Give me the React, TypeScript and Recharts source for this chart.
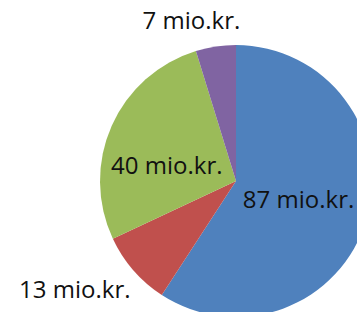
import { PieChart, Pie, Cell } from 'recharts';

document.body.style.margin = '0';

const categories = ['A', 'B', 'C', 'D'];
const values = [87, 13, 40, 7];
const valueLabels = ['87 mio.kr.', '13 mio.kr.', '40 mio.kr.', '7 mio.kr.'];
const colors = ['#4F81BD', '#C0504D', '#9BBB59', '#8064A2'];

// label placement, as fraction of radius and nudge in degrees from slice middle
const labelRadius = [0.48, 1.43, 0.52, 1.22];
const labelAngleShift = [0, -7, 12, 7];

const data = categories.map((name, i) => ({ name, value: values[i] }));

const RAD = Math.PI / 180;

function renderLabel(props: any) {
  const { cx, cy, midAngle, outerRadius, index } = props;
  const r = outerRadius * labelRadius[index];
  const a = (midAngle + labelAngleShift[index]) * RAD;
  const x = cx + r * Math.cos(a);
  const y = cy - r * Math.sin(a);
  return (
    <text x={x} y={y + 8} textAnchor="middle" fill="#111" fontSize={24} fontFamily="'Open Sans', sans-serif">
      {valueLabels[index]}
    </text>
  );
}

export default function App() {
  return (
    <div style={{ width: 357, height: 312, background: '#fff', overflow: 'hidden' }}>
      <PieChart width={357} height={312} margin={{ top: 0, right: 0, bottom: 0, left: 0 }}>
        <Pie data={data} dataKey="value" nameKey="name" cx={236} cy={181} outerRadius={136}
          startAngle={90} endAngle={-270} stroke="none" labelLine={false} label={renderLabel}
          isAnimationActive={false}>
          {data.map((d, i) => <Cell key={d.name} fill={colors[i]} />)}
        </Pie>
      </PieChart>
    </div>
  );
}
